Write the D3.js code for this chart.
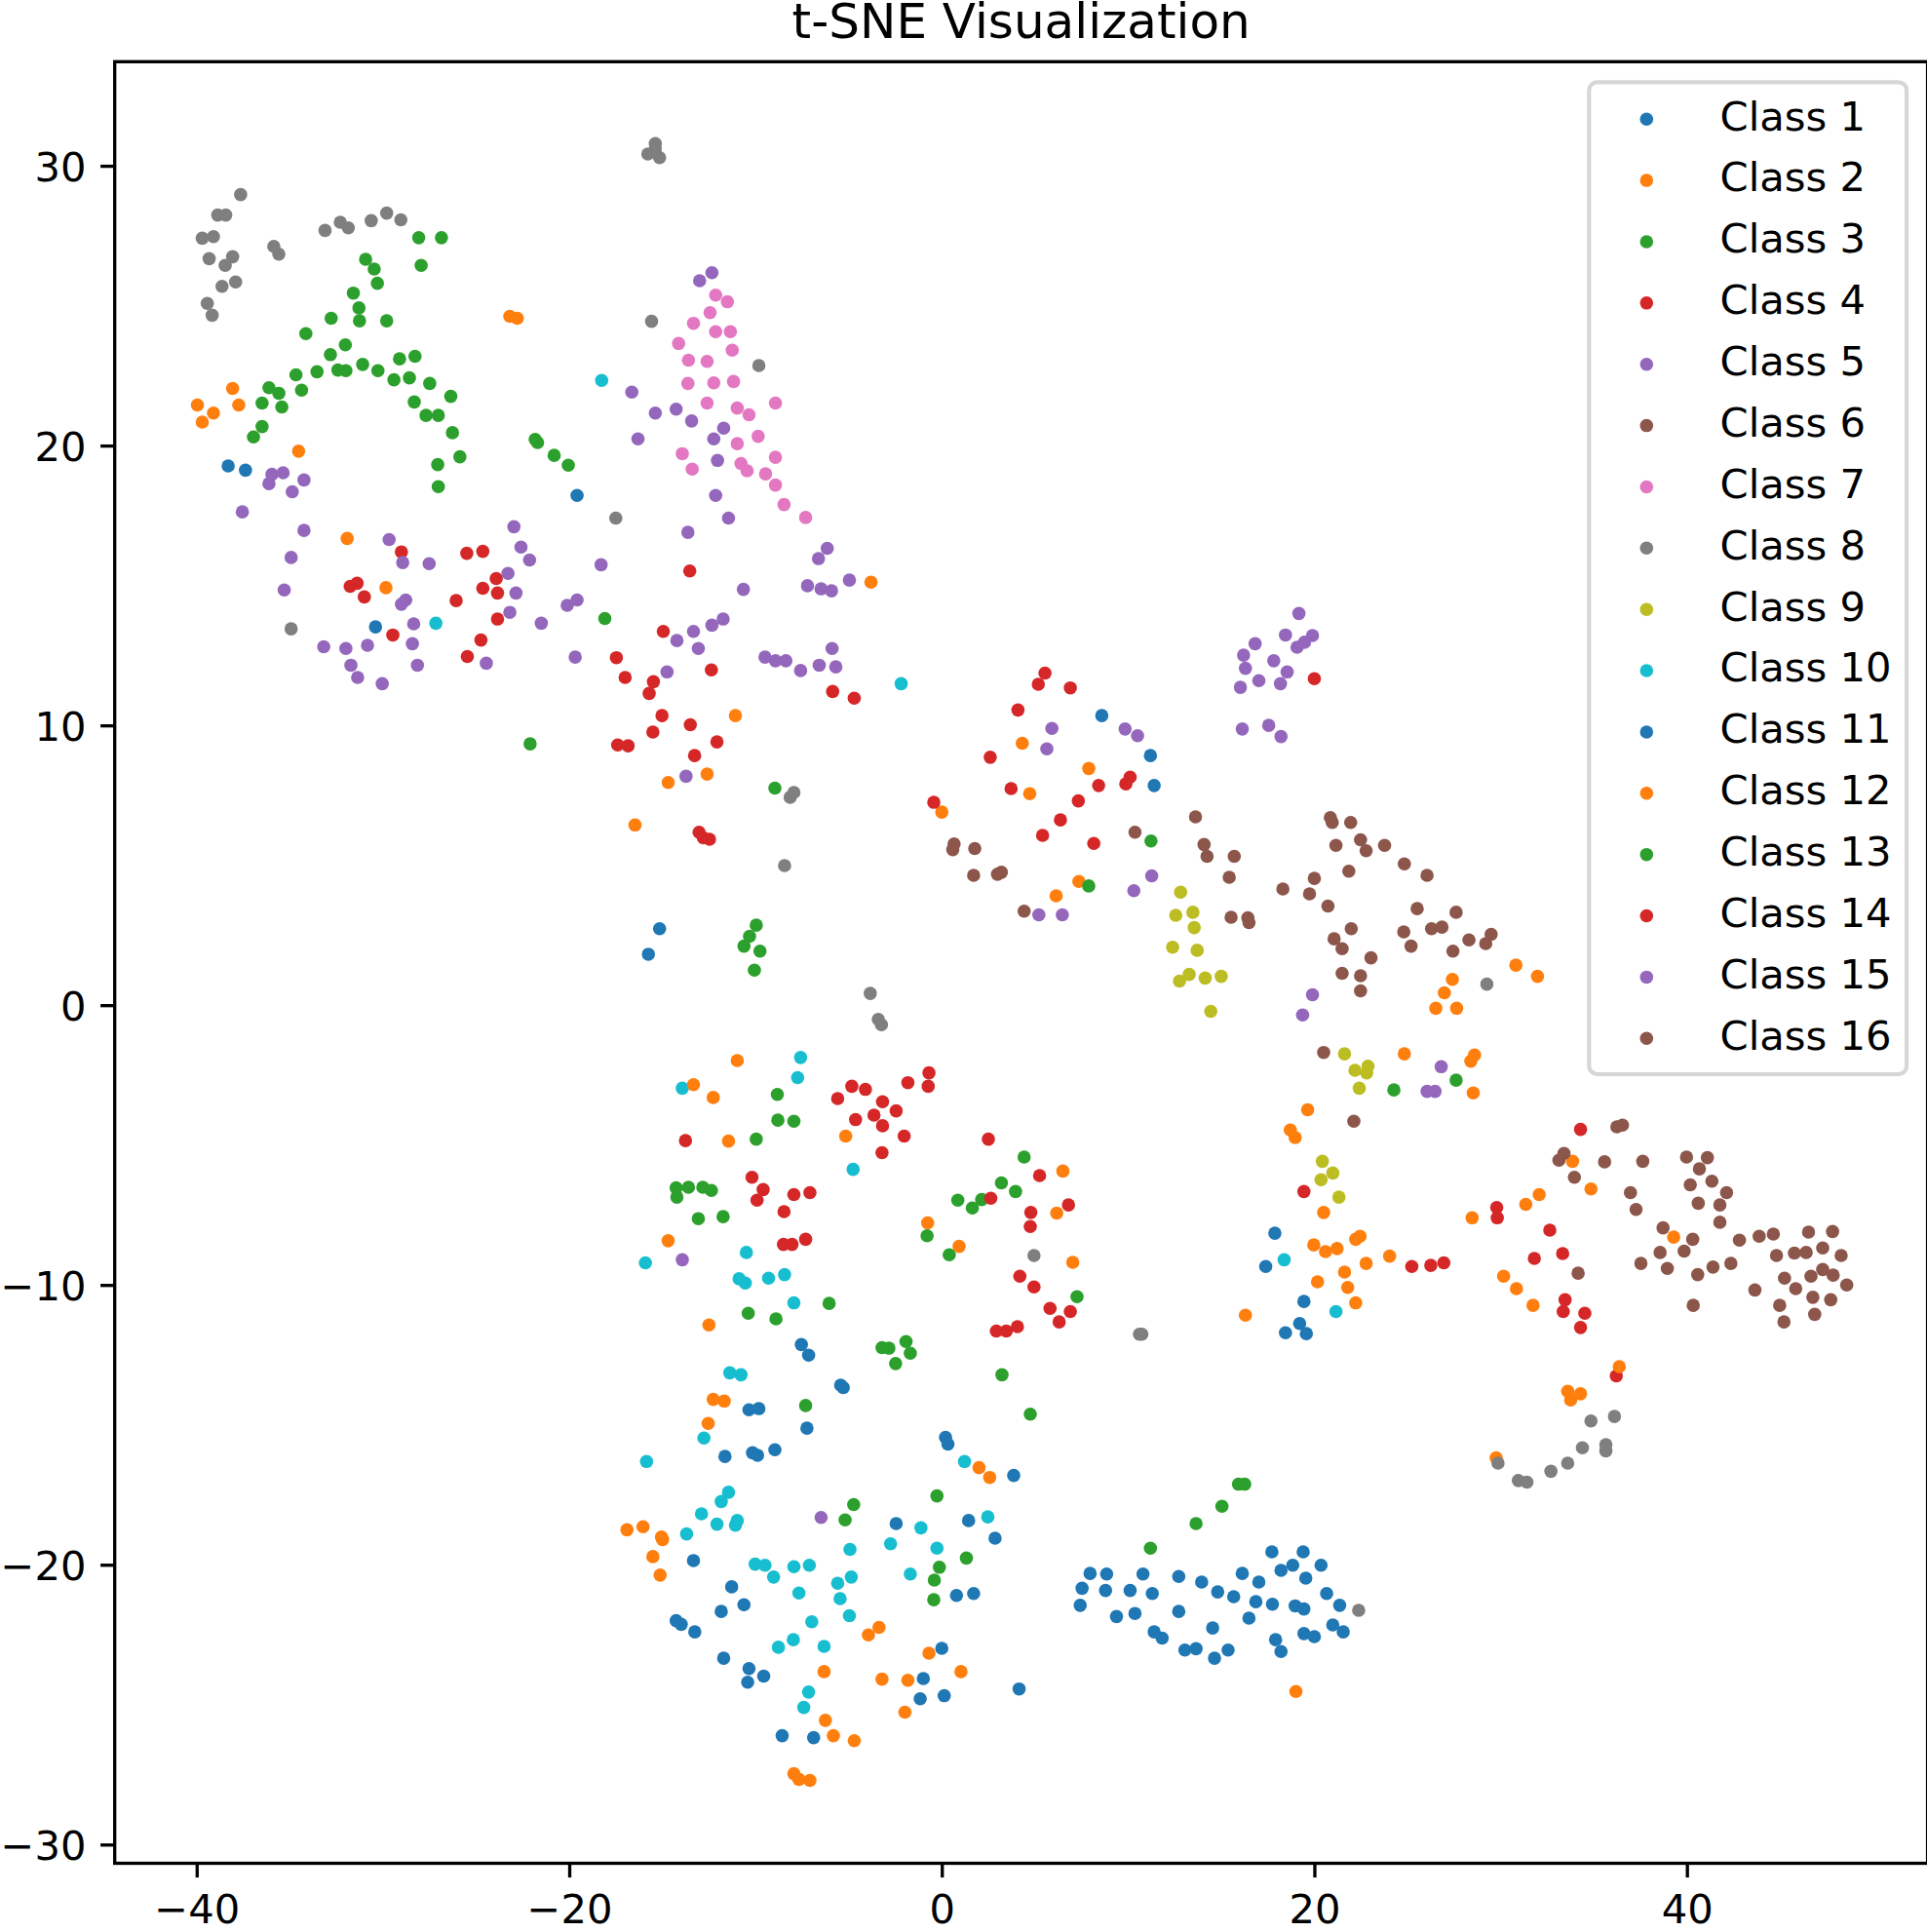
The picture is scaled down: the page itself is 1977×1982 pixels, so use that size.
<!DOCTYPE html>
<html>
<head>
<meta charset="utf-8">
<title>t-SNE Visualization</title>
<script src="https://cdn.jsdelivr.net/npm/d3@7"></script>
<style>
    html, body { margin: 0; padding: 0; background: #fff; }
    svg { display: block; }
    text { font-family: "DejaVu Sans", sans-serif; fill: #000; }
</style>
</head>
<body>
<svg id="chart" width="1977" height="1982"></svg>
<script>
// values, one list of [x, y] per class
const class1 = [[7.96,-20.31],[8.85,-20.33],[7.53,-20.84],[8.79,-20.92],[10.11,-20.92],[10.80,-20.33],[11.30,-21.03],[7.43,-21.45],[9.38,-21.85],[10.37,-21.74],[12.72,-20.42],[13.95,-20.62],[14.81,-20.97],[15.67,-21.14],[16.13,-20.31],[17.02,-20.62],[16.86,-21.32],[17.75,-21.41],[16.49,-21.91],[12.72,-21.67],[14.54,-22.26],[11.40,-22.40],[11.83,-22.62],[13.05,-23.05],[13.65,-23.00],[14.64,-23.34],[15.37,-23.05],[17.92,-22.68],[18.21,-23.10],[17.72,-19.54],[19.40,-19.54],[18.84,-20.02],[18.21,-20.20],[20.36,-20.02],[19.54,-20.48],[20.66,-21.03],[18.97,-21.47],[19.44,-21.58],[21.36,-21.45],[20.99,-22.15],[19.44,-22.46],[20.00,-22.57],[21.55,-22.40]];
const class2 = [[-38.07,22.04],[-39.96,21.45],[-39.10,21.16],[-37.74,21.45],[-39.70,20.84],[-34.53,19.80],[-23.19,24.62],[-22.79,24.55],[-31.92,16.68],[-29.84,14.92],[-3.80,15.12],[-11.08,10.35],[-14.69,7.96],[-12.60,8.26],[-16.47,6.44],[0.00,6.90],[4.32,9.36],[7.89,8.46],[4.72,7.56],[7.36,4.42],[6.14,3.91],[30.82,1.43],[31.98,1.03],[27.41,0.92],[26.98,0.44],[29.76,-16.18]];
const class3 = [[-28.08,27.43],[-26.86,27.43],[-30.93,26.66],[-30.47,26.31],[-30.30,25.80],[-27.95,26.44],[-31.59,25.45],[-31.29,24.92],[-31.26,24.46],[-29.80,24.46],[-32.78,24.55],[-34.14,24.00],[-32.02,23.60],[-32.82,23.25],[-31.09,22.90],[-29.11,23.10],[-28.28,23.19],[-34.67,22.53],[-33.54,22.64],[-32.42,22.70],[-31.99,22.68],[-30.27,22.68],[-29.41,22.35],[-28.58,22.42],[-27.49,22.22],[-36.12,22.07],[-35.59,21.87],[-36.49,21.52],[-35.43,21.38],[-34.37,21.98],[-26.36,21.76],[-28.32,21.56],[-27.69,21.08],[-27.03,21.08],[-36.49,20.68],[-36.95,20.31],[-26.27,20.46],[-27.06,19.32],[-25.87,19.60],[-27.03,18.53],[-21.83,20.22],[-21.70,20.11],[-20.81,19.65],[-20.05,19.30],[-18.09,13.82],[-22.10,9.34]];
const class4 = [[-29.01,16.20],[-25.50,16.15],[-24.64,16.22],[-31.76,14.97],[-31.39,15.08],[-31.00,14.59],[-23.92,15.25],[-24.64,14.90],[-23.85,14.73],[-26.07,14.46],[-23.85,13.80],[-29.47,13.23],[-24.74,13.05],[-25.47,12.46],[-13.53,15.52],[-14.95,13.36],[-17.47,12.42],[-17.00,11.71],[-15.48,11.56],[-15.71,11.14],[-12.37,11.98],[-15.02,10.35],[-13.50,10.02],[-15.51,9.76],[-17.40,9.30],[-16.84,9.27],[-12.07,9.41],[-13.27,8.92],[-5.86,11.21],[-4.70,10.97],[-13.03,6.18],[-12.80,5.98],[-12.47,5.93],[-0.43,7.25],[5.54,11.87],[5.18,11.47],[6.90,11.34],[4.09,10.55],[2.60,8.86],[20.00,11.67],[3.72,7.74],[10.11,8.15],[9.88,7.91],[8.42,7.85],[7.33,7.30],[6.37,6.62],[5.41,6.07],[8.16,5.78],[36.21,-13.25]];
const class5 = [[-12.34,26.18],[-13.00,25.89],[-16.64,21.91],[-14.26,21.30],[-15.38,21.16],[-13.43,20.88],[-11.71,20.62],[-12.24,20.24],[-16.31,20.24],[-12.04,19.47],[-12.14,18.22],[-11.45,17.41],[-13.63,16.90],[-6.15,16.33],[-6.62,15.96],[-4.96,15.19],[-7.21,14.99],[-6.48,14.88],[-5.92,14.81],[-10.65,14.86],[-11.74,13.80],[-12.34,13.58],[-13.33,13.36],[-14.22,13.03],[-13.07,12.75],[-14.75,11.91],[-9.49,12.44],[-8.93,12.31],[-8.37,12.31],[-7.58,11.96],[-6.58,12.15],[-5.89,12.75],[-5.69,12.09],[-13.73,8.18],[-18.29,15.74],[-20.11,14.29],[-19.58,14.48],[-21.50,13.65],[-19.68,12.44],[-22.97,17.10],[-22.59,16.37],[-22.13,15.91],[-23.29,15.43],[-22.86,14.73],[-23.19,14.04],[-24.45,12.22],[-27.52,15.78],[-29.67,16.64],[-28.94,15.82],[-28.78,14.48],[-29.01,14.33],[-28.35,13.63],[-28.42,12.92],[-28.15,12.15],[-30.04,11.49],[-31.36,11.71],[-31.72,12.15],[-30.83,12.86],[-31.99,12.75],[-33.18,12.81],[-35.30,14.84],[-34.93,16.00],[-34.24,16.97],[-37.55,17.63],[-34.87,18.35],[-36.12,18.64],[-35.96,18.97],[-35.36,19.03],[-34.24,18.77]];
const class6 = [[0.66,5.76],[0.59,5.56],[1.77,5.60],[1.71,4.64],[2.99,4.68],[3.20,4.75],[4.42,3.36],[13.62,6.73],[14.08,5.74],[14.24,5.32],[15.70,5.32],[15.43,4.57],[10.37,6.18],[15.53,3.14],[16.43,3.12],[16.49,2.95],[20.86,6.70],[20.96,6.53],[21.95,6.53],[21.16,5.71],[22.48,5.91],[22.78,5.52],[23.77,5.71],[24.83,5.05],[26.05,4.64],[21.85,4.79],[20.00,4.53],[18.31,4.15],[19.74,3.98],[20.73,3.54],[25.52,3.45],[27.61,3.32],[21.98,2.73],[21.06,2.37],[21.49,2.02],[23.04,1.69],[24.80,2.62],[26.29,2.73],[26.85,2.79],[25.19,2.11],[27.44,1.93],[28.30,2.33],[29.20,2.20],[29.49,2.53],[21.49,1.14],[22.48,1.05],[22.48,0.51]];
const class7 = [[-12.14,25.38],[-11.51,25.14],[-12.44,24.75],[-13.33,24.37],[-12.14,24.07],[-11.35,24.07],[-11.25,23.41],[-14.13,23.65],[-13.60,23.05],[-12.60,23.01],[-13.63,22.22],[-12.24,22.24],[-11.18,22.29],[-12.60,21.52],[-10.98,21.34],[-10.35,21.10],[-8.93,21.52],[-10.98,20.07],[-9.86,20.33],[-13.93,19.71],[-13.40,19.16],[-10.78,19.36],[-10.45,19.10],[-8.93,19.58],[-9.46,18.99],[-8.93,18.59],[-8.47,17.89],[-7.31,17.43]];
const class8 = [[-37.64,28.97],[-38.87,28.24],[-38.44,28.24],[-39.10,27.47],[-39.70,27.41],[-39.33,26.68],[-38.07,26.75],[-38.47,26.44],[-38.64,25.69],[-37.91,25.85],[-39.43,25.08],[-39.17,24.66],[-35.86,27.12],[-35.59,26.84],[-33.11,27.69],[-32.29,27.98],[-31.86,27.78],[-30.63,28.04],[-29.80,28.31],[-29.04,28.07],[-15.78,30.42],[-15.38,30.79],[-15.15,30.29],[-15.38,30.60],[-15.58,24.44],[-9.82,22.86],[-17.50,17.41],[-34.93,13.45],[-7.94,7.60],[-8.14,7.43],[-8.44,4.99],[-3.84,0.42],[-3.41,-0.51],[-3.24,-0.70],[29.26,0.75],[4.95,-8.95],[10.61,-11.76],[10.74,-11.76],[22.38,-21.63],[29.86,-16.37],[30.95,-16.99],[31.41,-17.05],[32.70,-16.66],[33.60,-16.37],[34.39,-15.82],[35.65,-15.71],[35.65,-15.93],[34.85,-14.86],[36.11,-14.70]];
const class9 = [[12.82,4.04],[12.56,3.21],[13.48,3.32],[13.55,2.77],[12.39,2.07],[13.71,1.96],[12.76,0.86],[13.28,1.10],[14.14,0.97],[15.00,1.03],[14.44,-0.22],[21.62,-1.74],[22.18,-2.33],[22.88,-2.18],[22.81,-2.42],[22.41,-2.97],[20.43,-5.58],[20.99,-6.00],[20.36,-6.24],[21.32,-6.86]];
const class10 = [[-18.26,22.33],[-27.16,13.65],[-2.18,11.49],[-7.58,-1.87],[-7.74,-2.59],[-13.93,-2.97],[-4.76,-5.87],[-15.91,-9.21],[-10.49,-8.84],[-10.88,-9.78],[-10.55,-9.93],[-9.30,-9.76],[-8.44,-9.63],[-7.94,-10.64],[-11.38,-13.14],[-10.78,-13.21],[-12.77,-15.47],[-15.85,-16.31],[-11.45,-17.41],[-11.84,-17.74],[-12.90,-18.18],[-12.07,-18.55],[-10.98,-18.42],[-11.08,-18.59],[-13.70,-18.90],[-10.02,-19.98],[-9.49,-20.02],[-7.94,-20.07],[-7.11,-20.02],[-9.03,-20.44],[-7.67,-21.01],[-4.93,-19.45],[-4.86,-20.44],[-5.59,-20.66],[-5.46,-21.21],[-4.96,-21.82],[-6.98,-22.04],[-6.32,-22.92],[-7.97,-22.68],[-8.77,-22.95],[-7.15,-24.55],[-7.41,-25.10],[-2.75,-19.25],[-1.12,-18.68],[-0.26,-19.41],[-1.69,-20.33],[1.22,-16.31],[2.47,-18.29],[18.38,-9.10],[21.16,-10.95]];
const class11 = [[-38.31,19.27],[-37.38,19.12],[-19.58,18.22],[-30.40,13.52],[-15.15,2.73],[-15.75,1.82],[8.59,10.35],[11.20,8.92],[11.40,7.85],[-7.54,-12.13],[-7.15,-12.51],[-5.43,-13.58],[-5.29,-13.67],[-10.35,-14.46],[-9.82,-14.42],[-7.24,-15.12],[0.20,-15.45],[0.33,-15.69],[-11.64,-16.13],[-10.16,-16.00],[-9.89,-16.09],[-8.96,-15.89],[-2.45,-18.53],[1.44,-18.42],[3.86,-16.81],[2.86,-19.05],[1.71,-21.03],[0.79,-21.10],[-13.33,-19.85],[-11.28,-20.79],[-11.84,-21.67],[-10.62,-21.43],[-14.26,-22.00],[-13.99,-22.13],[-13.26,-22.40],[-11.71,-23.34],[-10.35,-23.71],[-9.56,-23.98],[-10.42,-24.20],[-8.57,-26.11],[-6.88,-26.18],[0.00,-22.99],[-0.99,-24.07],[-1.16,-24.79],[0.13,-24.68],[4.15,-24.44],[17.88,-8.15],[17.39,-9.34],[19.44,-10.59],[19.21,-11.38],[18.45,-11.71],[19.57,-11.74]];
const class12 = [[26.52,-0.11],[27.64,-0.11],[24.83,-1.74],[28.60,-1.78],[28.40,-2.00],[28.53,-3.14],[19.64,-3.74],[18.71,-4.46],[18.97,-4.73],[33.86,-5.58],[34.85,-6.57],[32.07,-6.77],[31.35,-7.12],[28.47,-7.60],[39.29,-8.29],[20.50,-7.41],[6.50,-5.93],[6.17,-7.43],[7.03,-9.19],[19.97,-8.57],[20.60,-8.81],[21.22,-8.70],[22.45,-8.26],[22.22,-8.37],[24.04,-8.97],[22.78,-9.23],[21.62,-9.54],[20.17,-9.89],[21.79,-10.09],[22.22,-10.64],[16.30,-11.08],[30.16,-9.69],[30.85,-10.13],[31.74,-10.73],[36.37,-12.92],[33.60,-13.80],[34.29,-13.89],[33.76,-14.11],[19.01,-24.53],[2.00,-16.53],[2.57,-16.88],[1.03,-23.82],[-10.98,-1.98],[-13.33,-2.84],[-12.27,-3.30],[-11.45,-4.86],[-5.16,-4.68],[-14.69,-8.42],[-0.76,-7.78],[0.93,-8.62],[-12.50,-11.43],[-12.27,-14.09],[-11.68,-14.15],[-12.54,-14.95],[-16.90,-18.75],[-16.04,-18.64],[-15.05,-19.01],[-14.99,-19.10],[-15.51,-19.71],[-15.12,-20.37],[-3.37,-22.24],[-3.94,-22.51],[-0.69,-23.16],[-6.32,-23.82],[-3.21,-24.09],[-1.82,-24.13],[-1.98,-25.27],[-6.25,-25.56],[-5.82,-26.11],[-4.70,-26.29],[-7.94,-27.47],[-7.67,-27.67],[-7.08,-27.71]];
const class13 = [[-8.96,7.76],[-9.96,2.86],[-10.32,2.46],[-9.76,1.93],[-10.62,2.11],[-10.06,1.25],[11.23,5.87],[7.89,4.26],[24.27,-3.03],[27.61,-2.68],[-8.83,-3.19],[-8.80,-4.11],[-7.94,-4.15],[-9.96,-4.79],[-14.26,-6.53],[-13.60,-6.51],[-12.83,-6.51],[-12.37,-6.62],[-14.22,-6.86],[-13.07,-7.63],[-11.74,-7.56],[-6.05,-10.66],[-10.39,-11.01],[-8.90,-11.21],[-3.21,-12.24],[-2.84,-12.26],[-1.92,-12.02],[-1.69,-12.44],[-2.48,-12.81],[-7.31,-14.31],[-0.26,-17.54],[-4.73,-17.85],[-5.19,-18.40],[-0.13,-20.09],[-0.40,-20.55],[-0.43,-21.25],[1.32,-19.76],[-0.79,-8.24],[0.40,-8.92],[0.86,-6.97],[1.64,-7.25],[2.14,-6.95],[3.20,-6.35],[3.96,-6.66],[4.42,-5.43],[7.26,-10.42],[3.23,-13.21],[4.75,-14.62],[11.20,-19.41],[13.65,-18.53],[15.04,-17.91],[15.93,-17.12],[16.26,-17.12]];
const class14 = [[-0.69,-2.42],[-1.82,-2.77],[-0.73,-2.90],[-4.83,-2.90],[-4.10,-3.01],[-5.59,-3.34],[-3.18,-3.45],[-4.63,-4.09],[-3.64,-3.93],[-2.45,-3.78],[-3.18,-4.31],[-2.02,-4.68],[-3.21,-5.27],[-13.76,-4.84],[-10.19,-6.15],[-9.59,-6.59],[-9.92,-6.97],[-7.94,-6.77],[-7.08,-6.70],[-8.47,-7.38],[-8.50,-8.55],[-8.04,-8.55],[-7.31,-8.37],[2.50,-4.79],[5.25,-6.09],[2.63,-6.90],[4.78,-7.41],[6.80,-7.14],[4.75,-7.91],[4.19,-9.69],[4.95,-10.07],[5.81,-10.84],[6.90,-10.95],[6.30,-11.32],[2.93,-11.65],[3.46,-11.65],[4.06,-11.49],[19.44,-6.66],[25.23,-9.34],[26.25,-9.30],[26.95,-9.21],[29.79,-7.23],[29.82,-7.60],[34.29,-4.44],[32.64,-8.04],[31.81,-9.05],[33.33,-8.88],[33.46,-10.53],[33.36,-10.95],[34.52,-11.01],[34.29,-11.52]];
const class15 = [[5.91,9.89],[5.64,9.16],[9.84,9.87],[10.51,9.63],[11.27,4.62],[10.31,4.09],[5.21,3.23],[6.47,3.23],[19.17,14.00],[18.45,13.23],[16.82,12.92],[19.90,13.21],[19.47,12.97],[19.07,12.79],[16.20,12.51],[17.82,12.31],[16.30,12.04],[18.54,11.91],[17.02,11.60],[18.18,11.49],[16.03,11.36],[16.13,9.87],[17.55,10.00],[18.21,9.60],[19.90,0.37],[19.37,-0.35],[26.81,-2.20],[26.05,-3.08],[26.48,-3.08],[-13.93,-9.10],[-6.48,-18.31]];
const class16 = [[20.50,-1.69],[22.12,-4.15],[36.54,-4.29],[36.24,-4.35],[33.40,-5.30],[33.13,-5.54],[35.58,-5.60],[37.63,-5.58],[33.96,-6.15],[36.97,-6.70],[37.27,-7.30],[39.98,-5.43],[41.10,-5.45],[40.67,-5.85],[40.18,-6.42],[41.34,-6.29],[42.13,-6.70],[40.61,-7.08],[41.77,-7.14],[41.77,-7.76],[38.72,-7.96],[40.31,-8.37],[39.85,-8.79],[38.56,-8.84],[38.95,-9.41],[37.53,-9.23],[40.58,-9.63],[41.40,-9.36],[42.36,-9.23],[40.34,-10.73],[34.16,-9.58],[42.82,-8.40],[43.88,-8.26],[44.64,-8.18],[46.53,-8.11],[47.82,-8.09],[44.81,-8.95],[45.77,-8.86],[46.40,-8.84],[47.29,-8.68],[48.28,-8.95],[47.29,-9.45],[47.85,-9.65],[46.66,-9.69],[45.24,-9.76],[43.65,-10.18],[45.84,-10.13],[48.58,-10.00],[46.76,-10.44],[47.72,-10.53],[44.98,-10.73],[46.86,-11.05],[45.21,-11.32]];

const classNames = ["Class 1", "Class 2", "Class 3", "Class 4", "Class 5", "Class 6", "Class 7", "Class 8",
    "Class 9", "Class 10", "Class 11", "Class 12", "Class 13", "Class 14", "Class 15", "Class 16"];
const classPoints = [class1, class2, class3, class4, class5, class6, class7, class8,
    class9, class10, class11, class12, class13, class14, class15, class16];
const xTicks = [-40, -20, 0, 20, 40];
const yTicks = [-30, -20, -10, 0, 10, 20, 30];

const svg = d3.select("#chart");
const plot = { left: 117.7, right: 1977.6, top: 63.3, bottom: 1911.5 };
const lineWidth = 3.33, dotRadius = 6.8, fontSize = 41.67;

const x = d3.scaleLinear().domain([-44.40, 52.92]).range([plot.left, plot.right]);
const y = d3.scaleLinear().domain([-30.67, 33.72]).range([plot.bottom, plot.top]);
// matplotlib's tab10 cycle, so classes 11 to 16 repeat the first colours
const color = d3.scaleOrdinal().domain(classNames).range(d3.schemeCategory10.concat(d3.schemeCategory10));

classPoints.forEach((points, i) => {
    svg.append("g")
        .attr("class", "class-points")
        .selectAll("circle")
        .data(points)
        .enter()
        .append("circle")
        .attr("cx", d => x(d[0]))
        .attr("cy", d => y(d[1]))
        .attr("r", dotRadius)
        .attr("fill", color(classNames[i]));
});

svg.append("rect")
    .attr("x", plot.left)
    .attr("y", plot.top)
    .attr("width", plot.right - plot.left)
    .attr("height", plot.bottom - plot.top)
    .attr("fill", "none")
    .attr("stroke", "#000")
    .attr("stroke-width", lineWidth);

const xAxis = d3.axisBottom(x).tickValues(xTicks).tickSize(14.6).tickPadding(17);
const yAxis = d3.axisLeft(y).tickValues(yTicks).tickSize(14.6).tickPadding(14.6);

const axes = [svg.append("g").attr("transform", `translate(0,${plot.bottom})`).call(xAxis),
    svg.append("g").attr("transform", `translate(${plot.left},0)`).call(yAxis)];
axes.forEach(axis => {
    axis.select(".domain").remove();
    axis.selectAll("line").attr("stroke", "#000").attr("stroke-width", lineWidth);
    axis.selectAll("text").attr("font-size", fontSize).attr("font-family", "DejaVu Sans").attr("fill", "#000");
});
axes[1].selectAll("text").attr("dy", 15.2);

svg.append("text")
    .attr("x", (plot.left + plot.right) / 2)
    .attr("y", 38.5)
    .attr("text-anchor", "middle")
    .attr("font-size", 50)
    .text("t-SNE Visualization");

// legend
const rowY = d3.scaleLinear().domain([0, 15]).range([122.2, 1065.3]);

svg.append("rect")
    .attr("x", 1630.3)
    .attr("y", 84.3)
    .attr("width", 325.8)
    .attr("height", 1017.7)
    .attr("rx", 8.3)
    .attr("fill", "#fff")
    .attr("fill-opacity", 0.8)
    .attr("stroke", "#d6d6d6")
    .attr("stroke-width", 4.17);

const rows = svg.append("g")
    .selectAll("g")
    .data(classNames)
    .enter()
    .append("g")
    .attr("transform", (d, i) => `translate(0,${rowY(i)})`);

rows.append("circle")
    .attr("cx", 1689.3)
    .attr("r", dotRadius)
    .attr("fill", d => color(d));

rows.append("text")
    .attr("x", 1764.6)
    .attr("y", 11.4)
    .attr("font-size", fontSize)
    .text(d => d);
</script>
</body>
</html>
